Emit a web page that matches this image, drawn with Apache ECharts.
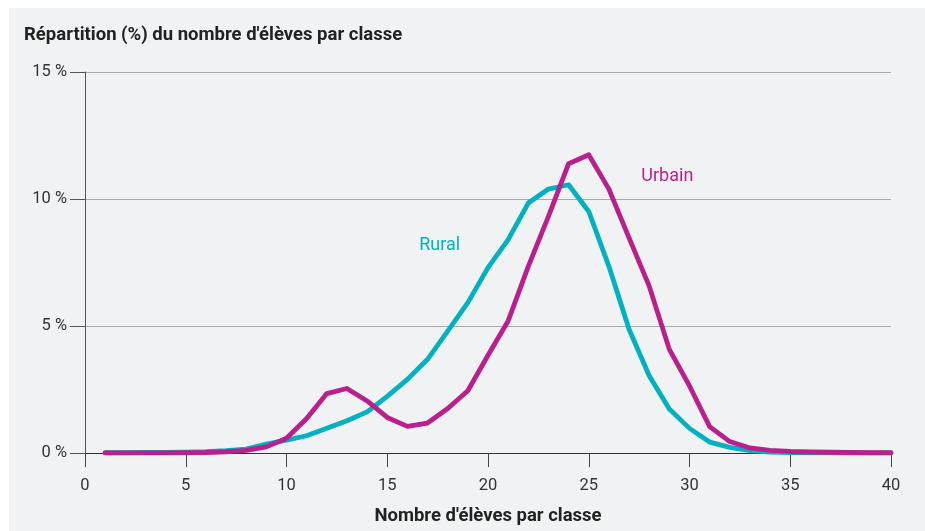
<!DOCTYPE html>
<html>
<head>
<meta charset="utf-8">
<script src="https://cdn.jsdelivr.net/npm/echarts@6/dist/echarts.min.js"></script>
<style>
  html, body { margin: 0; padding: 0; background: #fff; }
  #main {
    position: absolute;
    left: 9px;
    top: 8px;
    width: 916px;
    height: 523px;
    background-color: #f1f2f4;
  }
</style>
</head>
<body>
<div id="main"></div>
<script>
// nombre d'élèves par classe (1 à 40)
var classSize = [];
for (var i = 1; i <= 40; i++) classSize.push(i);

var rural = [0.01, 0.01, 0.02, 0.02, 0.03, 0.05, 0.09, 0.15, 0.35, 0.51,
             0.68, 0.97, 1.27, 1.62, 2.23, 2.9, 3.69, 4.8, 5.92, 7.3,
             8.4, 9.84, 10.39, 10.56, 9.51, 7.35, 4.87, 3.04, 1.73, 0.97,
             0.43, 0.22, 0.09, 0.04, 0.02, 0.01, 0.01, 0.0, 0.0, 0.0];

var urbain = [0.0, 0.0, 0.0, 0.0, 0.01, 0.02, 0.05, 0.1, 0.24, 0.58,
              1.36, 2.34, 2.54, 2.05, 1.4, 1.05, 1.18, 1.75, 2.45, 3.85,
              5.2, 7.35, 9.32, 11.39, 11.74, 10.39, 8.47, 6.57, 4.08, 2.64,
              1.04, 0.45, 0.2, 0.1, 0.06, 0.04, 0.03, 0.02, 0.01, 0.01];

var yTicks = [0, 5, 10, 15];

var cyan = '#00b1c1';
var magenta = '#bb1f8d';
var font = 'Roboto, "Noto Sans", sans-serif';

var myChart = echarts.init(document.getElementById('main'));

var option = {
  animation: false,
  textStyle: { fontFamily: font },
  title: {
    text: "Répartition (%) du nombre d'élèves par classe",
    left: 10,
    top: 13,
    textStyle: { fontSize: 18.5, fontWeight: 'bold', color: '#222', fontFamily: font }
  },
  grid: { left: 76, right: 34, top: 64, bottom: 77 },
  xAxis: {
    type: 'value',
    min: 0,
    max: 40,
    interval: 5,
    name: "Nombre d'élèves par classe",
    nameLocation: 'middle',
    nameGap: 54,
    nameTextStyle: { fontSize: 18.5, fontWeight: 'bold', color: '#222' },
    axisLine: { onZero: false, lineStyle: { color: '#333', width: 1 } },
    axisTick: { show: true, length: 14, lineStyle: { color: '#444' } },
    axisLabel: { fontSize: 16.5, color: '#333', margin: 24 },
    splitLine: { show: false }
  },
  yAxis: {
    type: 'value',
    min: yTicks[0],
    max: yTicks[yTicks.length - 1],
    interval: 5,
    axisLine: { show: true, lineStyle: { color: '#555', width: 1 } },
    axisTick: { show: true, length: 15, lineStyle: { color: '#555' } },
    axisLabel: { fontSize: 16.5, color: '#333', margin: 18, formatter: '{value} %' },
    splitLine: { show: true, lineStyle: { color: '#aaa', width: 1 } }
  },
  series: [
    {
      name: 'Rural',
      type: 'line',
      data: classSize.map(function (x, i) { return [x, rural[i]]; }),
      symbol: 'none',
      lineStyle: { color: cyan, width: 4.8, cap: 'round', join: 'round' },
      markPoint: {
        symbol: 'circle',
        symbolSize: 0,
        label: { show: true, formatter: 'Rural', color: cyan, fontSize: 18 },
        data: [{ coord: [17.6, 8.15] }]
      }
    },
    {
      name: 'Urbain',
      type: 'line',
      data: classSize.map(function (x, i) { return [x, urbain[i]]; }),
      symbol: 'none',
      lineStyle: { color: magenta, width: 4.8, cap: 'round', join: 'round' },
      markPoint: {
        symbol: 'circle',
        symbolSize: 0,
        label: { show: true, formatter: 'Urbain', color: magenta, fontSize: 18 },
        data: [{ coord: [28.9, 10.9] }]
      }
    }
  ]
};

myChart.setOption(option);
</script>
</body>
</html>
